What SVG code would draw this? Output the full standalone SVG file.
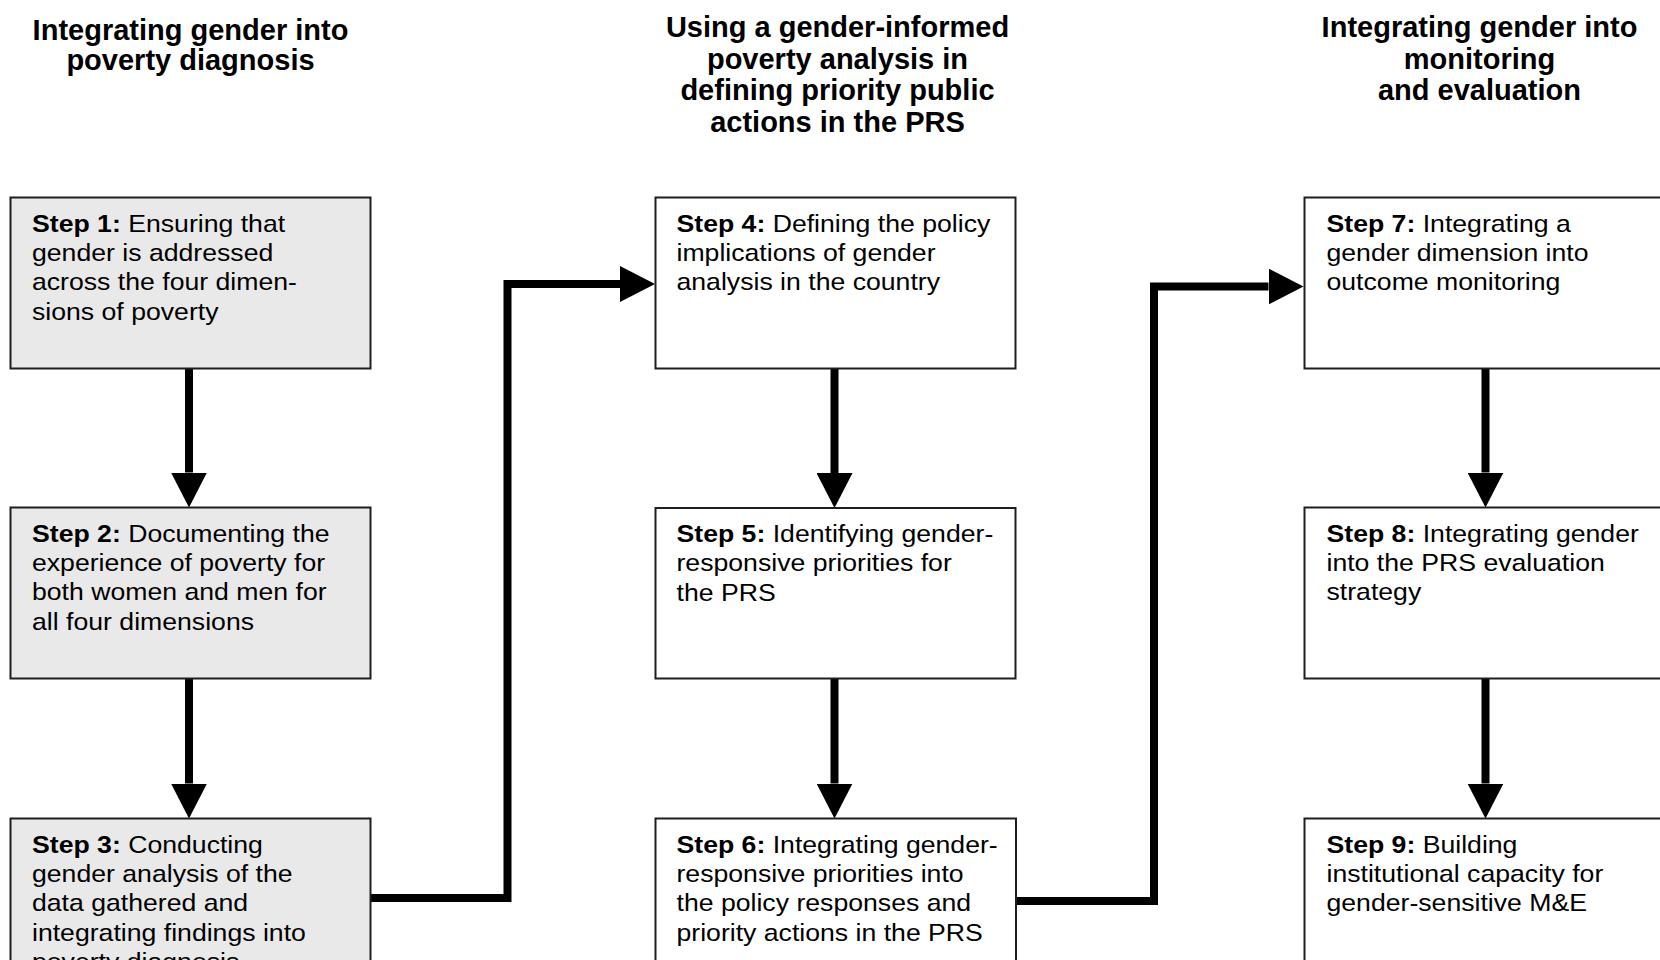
<svg xmlns="http://www.w3.org/2000/svg" width="1660" height="960" viewBox="0 0 1660 960">
  <style>
    .head { font-family: "Liberation Sans", Arial, sans-serif; font-weight: bold; font-size: 29px; fill: #000; text-anchor: middle; }
    .body { font-family: "Liberation Sans", Arial, sans-serif; font-size: 24px; fill: #000; }
    .body .b { font-weight: bold; }
    .box { stroke: #1e1e1e; stroke-width: 2; }
    .diag { fill: #e9e9e9; }
    .plain { fill: #ffffff; }
    .conn { fill: none; stroke: #000; stroke-width: 8; stroke-linejoin: miter; stroke-linecap: butt; }
  </style>
  <defs>
    <marker id="head" viewBox="0 0 35 36" refX="0" refY="18" markerWidth="35" markerHeight="36" markerUnits="userSpaceOnUse" orient="auto">
      <path d="M0,0 L35,18 L0,36 Z" fill="#000"/>
    </marker>
  </defs>

  <rect width="1660" height="960" fill="#ffffff"/>

  <!-- Column headings -->
  <g id="heading-diagnosis">
    <text class="head" x="190.5" y="39.5">Integrating gender into</text>
    <text class="head" x="190.5" y="69.5">poverty diagnosis</text>
  </g>
  <g id="heading-priorities">
    <text class="head" x="837.5" y="37">Using a gender-informed</text>
    <text class="head" x="837.5" y="68.5">poverty analysis in</text>
    <text class="head" x="837.5" y="100">defining priority public</text>
    <text class="head" x="837.5" y="131.5">actions in the PRS</text>
  </g>
  <g id="heading-monitoring">
    <text class="head" x="1479.5" y="37">Integrating gender into</text>
    <text class="head" x="1479.5" y="68.5">monitoring</text>
    <text class="head" x="1479.5" y="100">and evaluation</text>
  </g>

  <!-- Connectors -->
  <g id="connectors">
    <path class="conn" d="M189,368.5 V472.5" marker-end="url(#head)"/>
    <path class="conn" d="M189,678.5 V783.5" marker-end="url(#head)"/>
    <path class="conn" d="M834.5,368.5 V473" marker-end="url(#head)"/>
    <path class="conn" d="M834.5,679 V783.5" marker-end="url(#head)"/>
    <path class="conn" d="M1485.5,368.5 V472.5" marker-end="url(#head)"/>
    <path class="conn" d="M1485.5,678.5 V783.5" marker-end="url(#head)"/>
    <path class="conn" d="M371,898 H507.5 V284 H620" marker-end="url(#head)"/>
    <path class="conn" d="M1016,901 H1154 V286.5 H1268.5" marker-end="url(#head)"/>
  </g>

  <!-- Step 1 -->
  <g id="step1">
    <rect class="box diag" x="10.5" y="197.5" width="360" height="171"/>
    <text class="body" transform="translate(32,231.5) scale(1.11,1)">
      <tspan x="0" y="0"><tspan class="b">Step 1:</tspan> Ensuring that</tspan>
      <tspan x="0" y="29.5">gender is addressed</tspan>
      <tspan x="0" y="59">across the four dimen-</tspan>
      <tspan x="0" y="88.5">sions of poverty</tspan>
    </text>
  </g>

  <!-- Step 2 -->
  <g id="step2">
    <rect class="box diag" x="10.5" y="507.5" width="360" height="171"/>
    <text class="body" transform="translate(32,541.5) scale(1.11,1)">
      <tspan x="0" y="0"><tspan class="b">Step 2:</tspan> Documenting the</tspan>
      <tspan x="0" y="29.5">experience of poverty for</tspan>
      <tspan x="0" y="59">both women and men for</tspan>
      <tspan x="0" y="88.5">all four dimensions</tspan>
    </text>
  </g>

  <!-- Step 3 -->
  <g id="step3">
    <rect class="box diag" x="10.5" y="818.5" width="360" height="171"/>
    <text class="body" transform="translate(32,852.5) scale(1.11,1)">
      <tspan x="0" y="0"><tspan class="b">Step 3:</tspan> Conducting</tspan>
      <tspan x="0" y="29.5">gender analysis of the</tspan>
      <tspan x="0" y="59">data gathered and</tspan>
      <tspan x="0" y="88.5">integrating findings into</tspan>
      <tspan x="0" y="118">poverty diagnosis</tspan>
    </text>
  </g>

  <!-- Step 4 -->
  <g id="step4">
    <rect class="box plain" x="655.5" y="197.5" width="360" height="171"/>
    <text class="body" transform="translate(676.5,231.5) scale(1.11,1)">
      <tspan x="0" y="0"><tspan class="b">Step 4:</tspan> Defining the policy</tspan>
      <tspan x="0" y="29.5">implications of gender</tspan>
      <tspan x="0" y="59">analysis in the country</tspan>
    </text>
  </g>

  <!-- Step 5 -->
  <g id="step5">
    <rect class="box plain" x="655.5" y="508" width="360" height="170.5"/>
    <text class="body" transform="translate(676.5,542) scale(1.11,1)">
      <tspan x="0" y="0"><tspan class="b">Step 5:</tspan> Identifying gender-</tspan>
      <tspan x="0" y="29.5">responsive priorities for</tspan>
      <tspan x="0" y="59">the PRS</tspan>
    </text>
  </g>

  <!-- Step 6 -->
  <g id="step6">
    <rect class="box plain" x="655.5" y="818.5" width="360.5" height="171"/>
    <text class="body" transform="translate(676.5,852.5) scale(1.11,1)">
      <tspan x="0" y="0"><tspan class="b">Step 6:</tspan> Integrating gender-</tspan>
      <tspan x="0" y="29.5">responsive priorities into</tspan>
      <tspan x="0" y="59">the policy responses and</tspan>
      <tspan x="0" y="88.5">priority actions in the PRS</tspan>
    </text>
  </g>

  <!-- Step 7 -->
  <g id="step7">
    <rect class="box plain" x="1304.5" y="197.5" width="360" height="171"/>
    <text class="body" transform="translate(1326.5,231.5) scale(1.11,1)">
      <tspan x="0" y="0"><tspan class="b">Step 7:</tspan> Integrating a</tspan>
      <tspan x="0" y="29.5">gender dimension into</tspan>
      <tspan x="0" y="59">outcome monitoring</tspan>
    </text>
  </g>

  <!-- Step 8 -->
  <g id="step8">
    <rect class="box plain" x="1304.5" y="507.5" width="360" height="171"/>
    <text class="body" transform="translate(1326.5,541.5) scale(1.11,1)">
      <tspan x="0" y="0"><tspan class="b">Step 8:</tspan> Integrating gender</tspan>
      <tspan x="0" y="29.5">into the PRS evaluation</tspan>
      <tspan x="0" y="59">strategy</tspan>
    </text>
  </g>

  <!-- Step 9 -->
  <g id="step9">
    <rect class="box plain" x="1304.5" y="818.5" width="360" height="171"/>
    <text class="body" transform="translate(1326.5,852.5) scale(1.11,1)">
      <tspan x="0" y="0"><tspan class="b">Step 9:</tspan> Building</tspan>
      <tspan x="0" y="29.5">institutional capacity for</tspan>
      <tspan x="0" y="59">gender-sensitive M&amp;E</tspan>
    </text>
  </g>
</svg>
